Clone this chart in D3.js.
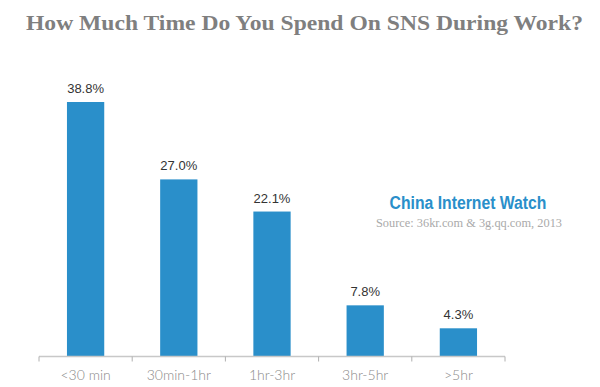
<!DOCTYPE html>
<html>
<head>
<meta charset="utf-8">
<script src="https://cdn.jsdelivr.net/npm/d3@7"></script>
<style>
  body { margin: 0; background: #fff; }
</style>
</head>
<body>
<div id="chart"></div>
<script>
var width = 600,
    height = 387;

var categories = ['<30 min', '30min-1hr', '1hr-3hr', '3hr-5hr', '>5hr'];
var values = [38.8, 27.0, 22.1, 7.8, 4.3];

var svg = d3.select('#chart').append('svg')
    .attr('width', width)
    .attr('height', height);

var x = d3.scaleBand()
    .domain(categories)
    .range([39, 505])
    .paddingInner(0.6)
    .paddingOuter(0.3);

var y = d3.scaleLinear()
    .domain([0, 38.8])
    .range([356.5, 102]);

// title
svg.append('text')
    .attr('x', 26)
    .attr('y', 30)
    .attr('textLength', 557)
    .attr('lengthAdjust', 'spacingAndGlyphs')
    .style('font-family', 'Liberation Serif, serif')
    .style('font-weight', 'bold')
    .style('font-size', '22px')
    .style('fill', '#7f7f7f')
    .text('How Much Time Do You Spend On SNS During Work?');

// bars
svg.selectAll('rect.bar')
    .data(values)
    .enter()
    .append('rect')
    .attr('class', 'bar')
    .attr('x', function(d, i) { return x(categories[i]); })
    .attr('width', x.bandwidth())
    .attr('y', function(d) { return y(d); })
    .attr('height', function(d) { return y(0) - y(d); })
    .style('fill', '#2a8fca');

// value labels
svg.selectAll('text.val')
    .data(values)
    .enter()
    .append('text')
    .attr('class', 'val')
    .attr('x', function(d, i) { return x(categories[i]) + x.bandwidth() / 2; })
    .attr('y', function(d) { return y(d) - 9; })
    .attr('text-anchor', 'middle')
    .style('font-family', 'Liberation Sans, Arial, sans-serif')
    .style('font-size', '13px')
    .style('fill', '#333')
    .text(function(d) { return d3.format('.1f')(d) + '%'; });

// axis
var axis = d3.axisBottom(x).tickSize(0).tickPadding(14);
var gx = svg.append('g')
    .attr('transform', 'translate(0,' + y(0) + ')')
    .call(axis);
gx.select('.domain').remove();
gx.append('line')
    .attr('x1', 39).attr('x2', 505)
    .attr('y1', 0).attr('y2', 0)
    .style('stroke', '#c8c8c8')
    .style('stroke-width', 1.5);
gx.selectAll('line.sep')
    .data(d3.range(categories.length + 1))
    .enter()
    .append('line')
    .attr('class', 'sep')
    .attr('x1', function(i) { return 39 + i * x.step(); })
    .attr('x2', function(i) { return 39 + i * x.step(); })
    .attr('y1', 0).attr('y2', 5)
    .style('stroke', '#b0b0b0');
gx.selectAll('.tick text')
    .style('font-family', 'Lato, sans-serif')
    .style('font-weight', '300')
    .style('font-size', '14px')
    .style('fill', '#8a8a8a');

// watermark
svg.append('text')
    .attr('x', 468)
    .attr('y', 209)
    .attr('text-anchor', 'middle')
    .attr('textLength', 157)
    .attr('lengthAdjust', 'spacingAndGlyphs')
    .style('font-family', 'Liberation Sans Narrow, Liberation Sans, Arial, sans-serif')
    .style('font-weight', 'bold')
    .style('font-size', '18px')
    .style('fill', '#2a8fca')
    .text('China Internet Watch');

svg.append('text')
    .attr('x', 469)
    .attr('y', 227)
    .attr('text-anchor', 'middle')
    .attr('textLength', 186)
    .attr('lengthAdjust', 'spacingAndGlyphs')
    .style('font-family', 'Liberation Serif, serif')
    .style('font-size', '12px')
    .style('fill', '#aaa')
    .text('Source: 36kr.com & 3g.qq.com, 2013');
</script>
</body>
</html>
